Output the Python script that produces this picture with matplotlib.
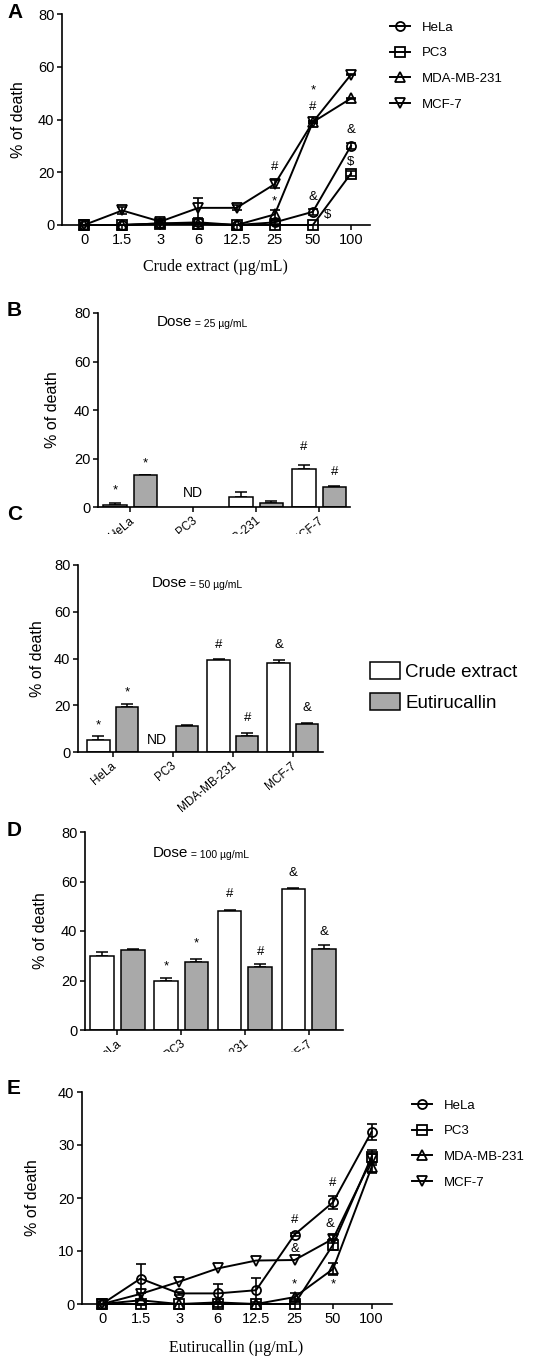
import numpy as np
import matplotlib.pyplot as plt
from matplotlib.lines import Line2D
from matplotlib.patches import Patch
from matplotlib.transforms import Bbox, TransformedBbox, ScaledTranslation

plt.rcParams['font.family'] = ['Liberation Sans', 'DejaVu Sans']

# ---- data ----
doses = ['0', '1.5', '3', '6', '12.5', '25', '50', '100']
cells = ['HeLa', 'PC3', 'MDA-MB-231', 'MCF-7']
markers = ['o', 's', '^', 'v']

# A: crude extract, % of death per dose
hela_a = [0, 0, 0.6, 1.0, 0, 1.0, 5.0, 30.0]
pc3_a = [0, 0, 0.3, 0.5, 0, 0, 0, 19.5]
mda_a = [0, 0, 0.6, 0.3, 0, 4.0, 39.0, 48.0]
mcf7_a = [0, 5.5, 1.3, 6.5, 6.5, 15.5, 39.0, 57.0]
hela_a_err = [0, 0, 0, 0, 0, 0.5, 1.2, 1.0]
pc3_a_err = [0, 0, 0, 0, 0, 0, 0, 1.0]
mda_a_err = [0, 0, 0, 0, 0, 1.8, 0.5, 0.3]
mcf7_a_err = [0, 1.5, 0.5, 3.8, 1.0, 1.5, 0.5, 0.3]
marks_a = [(5, 22, '#'), (5, 8.8, '*'), (6, 51, '*'), (6, 44.7, '#'),
           (6, 10.6, '&'), (6.4, 3.8, '$'), (7, 36, '&'), (7, 24, '$')]

# E: eutirucallin
hela_e = [0, 4.8, 2.0, 2.0, 2.6, 13.1, 19.2, 32.5]
pc3_e = [0, 0, 0, 0, 0, 0, 11.2, 27.8]
mda_e = [0, 0.7, 0, 0.3, 0, 1.3, 6.6, 25.8]
mcf7_e = [0, 1.9, 4.2, 6.7, 8.2, 8.3, 12.3, 27.3]
hela_e_err = [0, 2.8, 0.3, 1.7, 2.3, 0.3, 1.2, 1.5]
pc3_e_err = [0, 0, 0, 0, 0, 0, 1.0, 1.2]
mda_e_err = [0, 0, 0, 0, 0, 0.8, 1.2, 1.0]
mcf7_e_err = [0, 0, 0, 0, 0, 0, 0.8, 1.0]
marks_e = [(5, 15.8, '#'), (5, 10.3, '&'), (5, 3.6, '*'),
           (6, 22.8, '#'), (5.93, 15.1, '&'), (6, 3.6, '*')]

# B/C/D: bars (crude extract, eutirucallin); nan = not determined
crude_25 = [1.0, np.nan, 4.0, 15.5]
crude_25_err = [0.5, 0, 2.0, 2.0]
eut_25 = [13.0, np.nan, 1.5, 8.3]
eut_25_err = [0.2, 0, 0.8, 0.3]
marks_25 = [(-0.24, 7, '*'), (0.24, 18, '*'), (1.0, 5.7, 'ND'),
            (2.76, 24.7, '#'), (3.24, 14.4, '#')]

crude_50 = [5.0, np.nan, 39.3, 38.0]
crude_50_err = [2.0, 0, 0.4, 1.2]
eut_50 = [19.2, 11.2, 6.8, 12.0]
eut_50_err = [1.3, 0.4, 1.3, 0.5]
marks_50 = [(-0.24, 11.5, '*'), (0.24, 25.6, '*'), (0.73, 5.0, 'ND'),
            (1.76, 45.7, '#'), (2.24, 14.5, '#'), (2.76, 45.7, '&'), (3.24, 18.8, '&')]

crude_100 = [30.0, 19.7, 48.0, 57.0]
crude_100_err = [1.7, 1.2, 0.5, 0.2]
eut_100 = [32.5, 27.5, 25.5, 32.7]
eut_100_err = [0.2, 1.3, 1.0, 1.5]
marks_100 = [(0.76, 25.5, '*'), (1.24, 35, '*'), (1.76, 55, '#'),
             (2.24, 31.5, '#'), (2.76, 63.4, '&'), (3.24, 39.6, '&')]

W, H = 544, 1363
fig = plt.figure(figsize=(W / 100, H / 100), dpi=100)


def add_ax(left, right, top, bottom):
    return fig.add_axes([left / W, 1 - bottom / H, (right - left) / W, (bottom - top) / H])


def style(ax, ylim, yticks):
    for s in ['top', 'right']:
        ax.spines[s].set_visible(False)
    for s in ['left', 'bottom']:
        ax.spines[s].set_linewidth(1.2)
    ax.set_ylim(*ylim)
    ax.set_yticks(yticks)
    ax.tick_params(axis='both', direction='out', length=3.5, width=1.1, labelsize=10.5, pad=2)


def line_panel(ax, series, errs, xlim, ylim, yticks, xlabel, marks):
    x = np.arange(len(doses))
    for vals, err, m in zip(series, errs, markers):
        vals = np.array(vals, float)
        err = np.array(err, float)
        ax.plot(x, vals, '-', marker=m, color='k', mfc='none', ms=6.5, mew=1.3, lw=1.4, clip_on=False, zorder=3)
        k = err > 0
        if k.any():
            ax.errorbar(x[k], vals[k], yerr=err[k], fmt='none', ecolor='k', elinewidth=1.2,
                        capsize=3.5, capthick=1.2, clip_on=False, zorder=3)
    style(ax, ylim, yticks)
    ax.set_xlim(*xlim)
    ax.set_xticks(x, doses)
    ax.set_xlabel(xlabel, family=['Liberation Serif', 'DejaVu Serif'], fontsize=11.5)
    ax.set_ylabel('% of death', fontsize=11.5)
    for xx, yy, s in marks:
        ax.text(xx, yy, s, ha='center', va='center', fontsize=9.5)
    handles = [Line2D([], [], color='k', marker=m, mfc='none', ms=6.5, mew=1.3, lw=1.4) for m in markers]
    return handles


def bar_panel(ax, crude, crude_err, eut, eut_err, xlim, dose, marks, clip_y=None):
    x = np.arange(len(cells))
    for vals, err, dx, col in [(crude, crude_err, -0.24, 'white'), (eut, eut_err, 0.24, '#a9a9a9')]:
        vals = np.array(vals, float)
        err = np.array(err, float)
        k = ~np.isnan(vals)
        ax.bar(x[k] + dx, vals[k], 0.37, color=col, edgecolor='k', lw=1.1, zorder=2)
        ax.errorbar(x[k] + dx, vals[k], yerr=[np.zeros(k.sum()), err[k]], fmt='none', ecolor='k',
                    elinewidth=1.1, capsize=4, capthick=1.1, zorder=1)
    style(ax, (0, 80), [0, 20, 40, 60, 80])
    ax.set_xlim(*xlim)
    ax.set_xticks(x, cells, rotation=40, ha='right', fontsize=8.5)
    off = ScaledTranslation(6 / 100, 0, fig.dpi_scale_trans)
    for lab in ax.get_xticklabels():
        lab.set_transform(lab.get_transform() + off)
        if clip_y is not None:
            lab.set_clip_box(TransformedBbox(Bbox.from_extents(0, 1 - clip_y / H, 1, 1), fig.transFigure))
            lab.set_clip_on(True)
    ax.set_ylabel('% of death', fontsize=11.5)
    for xx, yy, s in marks:
        ax.text(xx, yy, s, ha='center', va='center', fontsize=10 if s == 'ND' else 9.5)
    t = ax.text(dose[0], dose[1], 'Dose', transform=ax.transAxes, fontsize=11, va='baseline')
    ax.annotate(' = %s \u00b5g/mL' % dose[2], xy=(1, 0), xycoords=t, fontsize=7.5, va='bottom')


line_legend = dict(loc='upper left', bbox_transform=fig.transFigure, frameon=False, fontsize=9.5,
                   handlelength=1.5, handletextpad=0.9, labelspacing=1.02, borderaxespad=0)

# A
axA = add_ax(62, 370, 14, 225)
h = line_panel(axA, [hela_a, pc3_a, mda_a, mcf7_a], [hela_a_err, pc3_a_err, mda_a_err, mcf7_a_err],
               (-0.58, 7.5), (0, 80), [0, 20, 40, 60, 80], 'Crude extract (\u00b5g/mL)', marks_a)
axA.xaxis.set_label_coords(0.497, -0.16)
axA.yaxis.set_label_coords(-0.118, 0.5)
axA.legend(h, cells, bbox_to_anchor=(385 / W, 1 - 16 / H), **line_legend)

# B
axB = add_ax(98, 350, 313, 507)
bar_panel(axB, crude_25, crude_25_err, eut_25, eut_25_err, (-0.51, 3.49), (0.234, 0.935, '25'), marks_25, clip_y=534)
axB.yaxis.set_label_coords(-0.15, 0.5)

# C
axC = add_ax(78, 323, 565, 752)
bar_panel(axC, crude_50, crude_50_err, eut_50, eut_50_err, (-0.58, 3.5), (0.302, 0.885, '50'), marks_50)
axC.yaxis.set_label_coords(-0.135, 0.5)
axC.legend([Patch(facecolor='white', edgecolor='k', lw=1.1), Patch(facecolor='#a9a9a9', edgecolor='k', lw=1.1)],
           ['Crude extract', 'Eutirucallin'], loc='upper left', bbox_to_anchor=(362 / W, 1 - 654 / H),
           bbox_transform=fig.transFigure, frameon=False, fontsize=13.5, handlelength=1.6, handleheight=1.05,
           handletextpad=0.3, labelspacing=0.66, borderaxespad=0)

# D
axD = add_ax(85, 343, 832, 1030)
bar_panel(axD, crude_100, crude_100_err, eut_100, eut_100_err, (-0.51, 3.54), (0.264, 0.875, '100'), marks_100,
          clip_y=1052)
axD.yaxis.set_label_coords(-0.145, 0.5)

# E
axE = add_ax(82, 392, 1092, 1304)
h = line_panel(axE, [hela_e, pc3_e, mda_e, mcf7_e], [hela_e_err, pc3_e_err, mda_e_err, mcf7_e_err],
               (-0.52, 7.53), (0, 40), [0, 10, 20, 30, 40], 'Eutirucallin (\u00b5g/mL)', marks_e)
axE.xaxis.set_label_coords(0.497, -0.17)
axE.yaxis.set_label_coords(-0.135, 0.5)
axE.legend(h, cells, bbox_to_anchor=(407 / W, 1 - 1094 / H), **line_legend)

# panel letters
for letter, yy in zip('ABCDE', [13, 310, 514, 831, 1088]):
    fig.text(7 / W, 1 - yy / H, letter, fontsize=15, fontweight='bold', va='center', ha='left')

fig.savefig('out.png', dpi=100)
